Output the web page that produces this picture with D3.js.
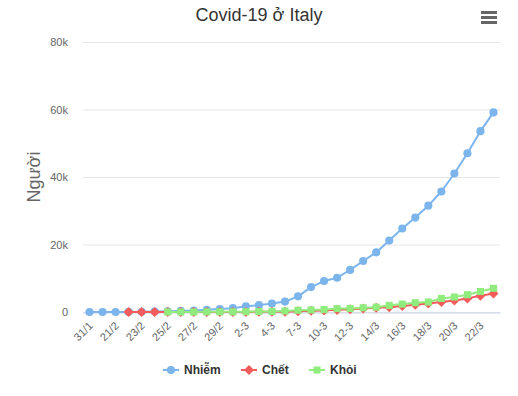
<!DOCTYPE html>
<html lang="vi">
<head>
<meta charset="utf-8">
<script src="https://d3js.org/d3.v7.min.js"></script>
<style>
  body { margin: 0; background: #fff; }
  svg { font-family: "Liberation Sans", Arial, sans-serif; }
</style>
</head>
<body>
<div id="chart"></div>
<script>
// categories (every other one is labelled on the axis)
var dates = ["31/1", "7/2", "21/2", "22/2", "23/2", "24/2", "25/2", "26/2", "27/2", "28/2",
  "29/2", "1-3", "2-3", "3-3", "4-3", "5-3", "7-3", "9-3", "10-3", "11-3",
  "12-3", "13/3", "14/3", "15/3", "16/3", "17/3", "18/3", "19/3", "20/3", "21/3",
  "22/3", "23/3"];

var nhiem = [2, 3, 3, 20, 62, 155, 229, 322, 453, 655,
  888, 1128, 1694, 2036, 2502, 3089, 4636, 7375, 9172, 10149,
  12462, 15113, 17660, 21157, 24747, 27980, 31506, 35713, 41035, 47021,
  53578, 59138];

var chet = [null, null, null, 1, 2, 3, 7, 10, 12, 17,
  21, 29, 34, 52, 79, 107, 197, 366, 463, 631,
  827, 1016, 1266, 1441, 1809, 2158, 2503, 2978, 3405, 4032,
  4825, 5476];

var khoi = [null, null, null, null, null, null, 1, 1, 3, 45,
  46, 46, 83, 149, 160, 276, 523, 622, 724, 1004,
  1045, 1258, 1439, 1966, 2335, 2749, 2941, 4025, 4440, 5129,
  6072, 7024];

var yTicks = [0, 20000, 40000, 60000, 80000];

var seriesList = [
  { name: "Nhiễm", values: nhiem, color: "#7cb5ec", symbol: "circle" },
  { name: "Chết", values: chet, color: "#f45b5b", symbol: "diamond" },
  { name: "Khỏi", values: khoi, color: "#90ed7d", symbol: "square" }
];

var W = 518, H = 396;
var margin = { top: 42, right: 18, bottom: 84, left: 83 };
var width = W - margin.left - margin.right,
    height = H - margin.top - margin.bottom;

var svg = d3.select("#chart").append("svg")
  .attr("width", W)
  .attr("height", H);

var x = d3.scaleBand().domain(dates).range([0, width]);
var y = d3.scaleLinear().domain([0, 80000]).range([height, 0]);

var g = svg.append("g")
  .attr("transform", "translate(" + margin.left + "," + margin.top + ")");

// grid
g.selectAll(".grid").data(yTicks).enter().append("line")
  .attr("x1", 0).attr("x2", width)
  .attr("y1", function(d) { return y(d) + 0.5; })
  .attr("y2", function(d) { return y(d) + 0.5; })
  .attr("stroke", "#e6e6e6");

// y axis labels
var yAxis = d3.axisLeft(y).tickValues(yTicks)
  .tickSize(0).tickPadding(15)
  .tickFormat(function(d) { return d === 0 ? "0" : (d / 1000) + "k"; });
g.append("g").call(yAxis)
  .call(function(s) { s.select(".domain").remove(); })
  .selectAll("text")
  .attr("fill", "#666666").style("font-size", "11px")
  .attr("dy", "0.32em");

// x axis
var xAxis = d3.axisBottom(x).tickSize(0)
  .tickValues(dates.filter(function(d, i) { return i % 2 === 0; }));
var xg = g.append("g").attr("transform", "translate(0," + (height + 0.5) + ")").call(xAxis);
xg.select(".domain").attr("stroke", "#ccd6eb");
xg.selectAll("text")
  .attr("fill", "#666666").style("font-size", "11px")
  .attr("text-anchor", "end")
  .attr("y", 0).attr("dy", 0)
  .attr("transform", "translate(4,14) rotate(-45)");

// lines and markers
var cx = function(i) { return x(dates[i]) + x.bandwidth() / 2; };

seriesList.forEach(function(s) {
  var pts = s.values.map(function(v, i) { return { i: i, v: v }; })
    .filter(function(p) { return p.v !== null; });
  var line = d3.line()
    .x(function(p) { return cx(p.i); })
    .y(function(p) { return y(p.v); });
  g.append("path").datum(pts)
    .attr("d", line)
    .attr("fill", "none")
    .attr("stroke", s.color)
    .attr("stroke-width", 2)
    .attr("stroke-linejoin", "round");
  var sym = s.symbol === "circle" ? d3.symbolCircle
    : s.symbol === "diamond" ? d3.symbolDiamond2 : d3.symbolSquare2;
  var size = s.symbol === "circle" ? 52 : 64;
  g.selectAll(null).data(pts).enter().append("path")
    .attr("d", d3.symbol().type(sym).size(size))
    .attr("transform", function(p) { return "translate(" + cx(p.i) + "," + y(p.v) + ")"; })
    .attr("fill", s.color);
});

// title
svg.append("text")
  .attr("x", W / 2).attr("y", 21)
  .attr("text-anchor", "middle")
  .attr("fill", "#333333")
  .style("font-size", "18px")
  .text("Covid-19 ở Italy");

// y axis title
svg.append("text")
  .attr("transform", "translate(40," + (margin.top + height / 2) + ") rotate(-90)")
  .attr("text-anchor", "middle")
  .attr("fill", "#666666")
  .style("font-size", "18px")
  .text("Người");

// menu icon
svg.selectAll(".menu").data([0, 1, 2]).enter().append("rect")
  .attr("x", 481).attr("y", function(d) { return 11 + d * 5; })
  .attr("width", 16).attr("height", 3)
  .attr("fill", "#666666");

// legend
var legendX = [163, 241, 309];
var legend = svg.selectAll(".legend").data(seriesList).enter().append("g")
  .attr("transform", function(d, i) { return "translate(" + legendX[i] + ",370)"; });
legend.append("line")
  .attr("x1", 0).attr("x2", 16)
  .attr("stroke", function(d) { return d.color; })
  .attr("stroke-width", 2);
legend.append("path")
  .attr("d", function(d) {
    var sym = d.symbol === "circle" ? d3.symbolCircle
      : d.symbol === "diamond" ? d3.symbolDiamond2 : d3.symbolSquare2;
    return d3.symbol().type(sym).size(d.symbol === "circle" ? 52 : 64)();
  })
  .attr("transform", "translate(8,0)")
  .attr("fill", function(d) { return d.color; });
legend.append("text")
  .attr("x", 21).attr("dy", "0.35em")
  .attr("fill", "#333333")
  .style("font-size", "12px")
  .style("font-weight", "bold")
  .text(function(d) { return d.name; });
</script>
</body>
</html>
